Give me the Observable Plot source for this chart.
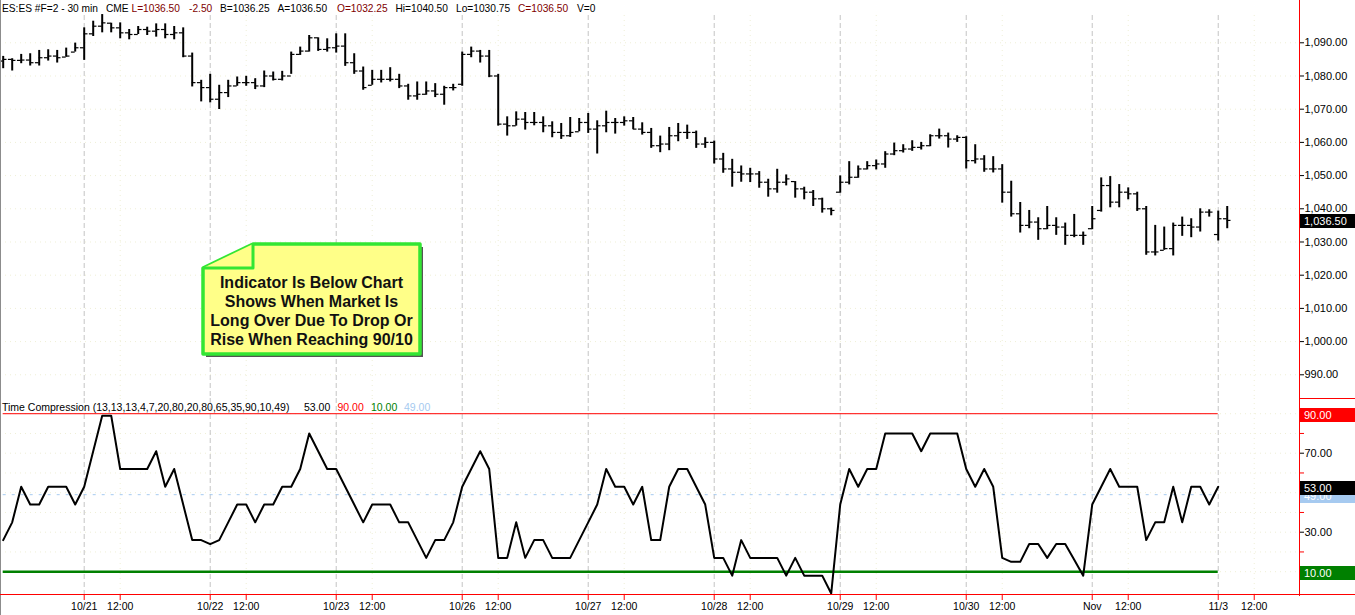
<!DOCTYPE html>
<html><head><meta charset="utf-8">
<script src="https://cdn.jsdelivr.net/npm/d3@7"></script>
<script src="https://cdn.jsdelivr.net/npm/@observablehq/plot@0.6"></script>
<style>
body{margin:0;background:#fff;font-family:"Liberation Sans",Arial,sans-serif;}
#wrap{position:relative;width:1355px;height:615px;overflow:hidden;background:#fff;}
#wrap svg{position:absolute;left:0;}
.t{position:absolute;font-size:10.5px;line-height:13px;white-space:pre;}
.h{font-size:10.2px;}
.box{position:absolute;left:1300px;width:55px;height:14px;color:#fff;font-size:11px;line-height:14px;padding-left:4px;box-sizing:border-box;}
.ln{position:absolute;}
</style></head><body><div id="wrap"></div><script>
// ---- data ----
const high = [
1085.9,1085.2,1086.5,1086.7,1087.7,1087.9,1087.7,1088.4,1089.9,
1094.5,1096.5,1098.5,1095.9,1096,1094,1094.9,1094.7,1095.7,1095.7,
1094.9,1094.5,1086.9,1078.7,1080.5,1077.2,1078.7,1079.7,1079.9,1079.2,
1081.5,1081.2,1081.4,1087.2,1088.7,1092.2,1091.5,1091.2,1092.7,1092.7,
1086.7,1082.7,1081.7,1081.7,1082.5,1080.5,1077.5,1078.2,1078.2,1077.7,
1076.9,1077.5,1087.2,1088.7,1087.7,1087.7,1080.5,1067.7,1069.2,1069,
1069,1067.7,1066.2,1065.7,1067.5,1067.2,1068.7,1066.5,1069.4,1067.2,
1067.7,1067.5,1065.9,1064.2,1061.9,1064.5,1065.7,1065.2,1063.4,1061.4,
1060.4,1056.7,1054.9,1052.9,1052.2,1051.2,1048.9,1051.9,1050.2,1048.2,
1046.5,1045.5,1043.2,1040.2,1049.9,1054.2,1052.9,1054.2,1054.7,1057.2,
1059.8,1059.3,1060.5,1060,1062.3,1064,1062.8,1062,1061.7,1059.3,
1056,1055.7,1053.3,1048.3,1041.9,1039.5,1037.3,1040.7,1037.3,1035.7,
1038.3,1033,1040.7,1049.3,1049.7,1047.3,1046.3,1045,1040.7,1035,
1034.5,1035.7,1037.5,1037,1040,1039.7,1039.3,1040.7];
const low = [
1082.2,1081.5,1083.7,1083,1083,1084.5,1083.9,1085.7,1087.2,
1084.7,1091.9,1093,1093,1091.2,1090.9,1092.5,1092.2,1091.7,1091.2,
1090.9,1085.5,1076.7,1072.2,1071.9,1069.9,1073.5,1076.9,1076.9,1075.9,
1076.5,1078.5,1078.5,1080.5,1086.2,1087.2,1087.4,1087.2,1086.9,1082.9,
1080.5,1075.7,1077.2,1077.9,1078.2,1076.2,1072.7,1072.7,1074.2,1073.5,
1071.2,1075.5,1076.9,1085.5,1083.9,1079.5,1064.9,1061.9,1064.9,1063.7,
1065,1062.9,1061.4,1060.9,1061.5,1063.2,1062.7,1056.5,1062.9,1062.5,
1064.9,1063.9,1062.2,1058.2,1056.9,1057.5,1060.2,1060.9,1058.2,1058.2,
1053.5,1050.7,1046.5,1048,1047.9,1046.2,1043.5,1044.7,1046.9,1043.2,
1042.7,1040.7,1038.7,1037.9,1044.7,1047.2,1049.2,1051.7,1051.7,1052.2,
1056,1056.8,1057.3,1057.7,1058.7,1061,1058.3,1060,1052,1053.5,
1051,1050.8,1041.7,1037.5,1032.7,1034,1030.5,1033.7,1032,1029,
1031.3,1029,1033.7,1039,1040.3,1040.3,1042.7,1039.2,1026,1025.8,
1027.5,1025.8,1031.7,1031.3,1033,1037.5,1030.3,1034];
const open = [
1084.5,1085,1084.7,1084.8,1084,1085.5,1086,1085.7,1087.2,
1088.5,1092.7,1095,1095.9,1094.5,1093,1092.5,1094,1093.5,1094,
1092.5,1093,1086,1078,1076.5,1073,1075,1077,1078,1078,
1077,1080,1079,1080,1086.5,1087.5,1091.5,1088,1088.5,1089,
1084,1081.5,1077.2,1079,1079,1079,1077,1074,1074.5,1075.5,
1074.5,1076.5,1077.5,1086.5,1087.5,1086,1080,1065.5,1065,1067,
1066,1066,1065,1063,1062,1063.2,1066,1064,1065,1066,
1066,1066.5,1064,1063,1059,1059.5,1062,1063,1063,1059.5,
1060,1055,1052,1051,1050.5,1050.5,1048,1046,1048,1048.2,
1046,1045,1043,1040,1045,1048,1049.5,1052,1053,1053.5,
1056.5,1057.5,1058,1058.5,1059,1062,1062,1061,1061.5,1054.5,
1055,1052,1052,1045,1038.5,1035,1036,1034,1035,1034.5,
1032,1032,1034,1039.5,1047,1042,1045,1044.5,1040,1027,
1027.5,1028,1035,1035,1034.5,1039,1032.25,1037];
const close = [
1085,1084.7,1084.8,1084,1085.5,1086,1085.5,1086,1088.5,
1092.7,1095,1096,1094.5,1093,1092.5,1094,1093.5,1094,1092.5,
1093,1086,1078,1076.5,1073,1075,1077,1078,1078,1077,
1080,1079,1080,1086.5,1087.5,1091.5,1088,1088.5,1089,1084,
1081.5,1076.5,1079,1079,1079,1077,1074,1074.5,1075.5,1074.5,
1076.5,1076.5,1086.5,1087.5,1086,1080,1065.5,1065,1067,1066,
1066,1065,1063,1062,1063,1066,1064,1065,1066,1066,
1066.5,1064,1063,1059,1059.5,1062,1063,1063,1059.5,1060,
1055,1052,1051,1050.5,1050.5,1048,1046,1048,1049,1046,
1045,1043,1040,1039.5,1048,1049.5,1052,1053,1053.5,1056.5,
1057.5,1058,1058.5,1059,1062,1062,1061,1061.5,1054.5,1055,
1052,1052,1045,1038.5,1035,1036,1034,1035,1034.5,1032,
1032,1032,1037,1047,1042,1045,1044.5,1040,1027,1027,
1028,1035,1035,1034.5,1039,1039,1037,1036.5];
// Time Compression indicator, one value per bar (last bar not yet computed)
const timeCompression = [
26,35,53,44,44,53,53,53,44,53,
71,89,89,62,62,62,62,71,53,62,
44,26,26,24,26,35,44,44,35,44,
44,53,53,62,80,71,62,62,53,44,
35,44,44,44,35,35,26,17,26,26,
35,53,62,71,62,17,17,35,17,26,
26,17,17,17,26,35,44,62,53,53,
44,53,26,26,53,62,62,53,44,17,
17,8,26,17,17,17,17,8,17,8,
8,8,-1,44,62,53,62,62,80,80,
80,80,71,80,80,80,80,62,53,62,
53,17,15,15,24,24,17,24,24,16,
8,44,53,62,53,53,53,26,35,35,
53,35,53,53,44,53];
const tcUpper = 90, tcLower = 10, tcMid = 49;
const dayLabels = ["10/21","10/22","10/23","10/26","10/27","10/28","10/29","10/30","Nov","11/3"];
const sessionStartBars = [9,23,37,51,65,79,93,107,121,135];
const noonLabel = "12:00";
const noonBarOffset = 4;
const priceTicks = [990,1000,1010,1020,1030,1040,1050,1060,1070,1080,1090];
const tcLabelTicks = [30,70];
const tcMinorTicks = [20,40,60,80];
const tcGrid = [10,20,30,40,50,60,70,80,90];
const headerParts = [
  ["ES:ES #F=2 - 30 min", "#000", 2], ["CME", "#000", 106], ["L=1036.50", "#800000", 131.5],
  ["-2.50", "#800000", 189], ["B=1036.25", "#000", 220], ["A=1036.50", "#000", 277.5],
  ["O=1032.25", "#800000", 337], ["Hi=1040.50", "#000", 395.5], ["Lo=1030.75", "#000", 456],
  ["C=1036.50", "#800000", 518], ["V=0", "#000", 577]];
const tcTitle = "Time Compression (13,13,13,4,7,20,80,20,80,65,35,90,10,49)";
const noteLines = ["Indicator Is Below Chart","Shows When Market Is","Long Over Due To Drop Or","Rise When Reaching 90/10"];

// ---- build ----
const bars = close.map((c, i) => ({i, open: open[i], high: high[i], low: low[i], close: c}));
const tc = timeCompression.map((v, i) => ({i, v}));
const noonBars = sessionStartBars.map(b => b + noonBarOffset);
const xTicks = [...sessionStartBars, ...noonBars].sort((a, b) => a - b);
const tickLabel = i => { const k = sessionStartBars.indexOf(i); return k >= 0 ? dayLabels[k] : noonLabel; };
const W = 1355, axisW = 56;
const xDomain = [-0.3, 144.03];
const font = '"Liberation Sans", Arial, sans-serif';
const faint = {stroke: "#efefd6", strokeDasharray: "1,4"};
const sessionRule = {stroke: "#c4c4c4", strokeDasharray: "5,3"};
const fmt2 = d3.format(",.2f");

const priceChart = Plot.plot({
  width: W, height: 398, marginTop: 15, marginBottom: 0, marginLeft: 0, marginRight: axisW,
  x: {domain: xDomain, axis: null},
  y: {domain: [982.86, 1098.22], axis: null},
  style: {fontFamily: font, fontSize: "11px", color: "#000", background: "transparent", overflow: "visible"},
  marks: [
    Plot.ruleY(priceTicks, faint),
    Plot.ruleX(noonBars, faint),
    Plot.ruleX(sessionStartBars, sessionRule),
    Plot.ruleX(bars, {x: "i", y1: "low", y2: "high", stroke: "#000", strokeWidth: 2}),
    Plot.ruleY(bars, {y: "open", x1: d => d.i - 0.42, x2: "i", stroke: "#000", strokeWidth: 1.2}),
    Plot.ruleY(bars, {y: "close", x1: "i", x2: d => d.i + 0.42, stroke: "#000", strokeWidth: 1.2}),
    Plot.axisY({ticks: priceTicks, anchor: "right", label: null, tickFormat: fmt2, tickSize: 4, tickPadding: 1, fontSize: 11})
  ]
});
const tcChart = Plot.plot({
  width: W, height: 217, marginTop: 0, marginBottom: 20, marginLeft: 0, marginRight: axisW,
  x: {domain: xDomain, axis: null},
  y: {domain: [-2.05, 97.7], axis: null},
  style: {fontFamily: font, fontSize: "11px", color: "#000", background: "transparent", overflow: "visible"},
  marks: [
    Plot.ruleY(tcGrid, faint),
    Plot.ruleX(noonBars, faint),
    Plot.ruleX(sessionStartBars, sessionRule),
    Plot.ruleY([tcMid], {x1: 0, x2: tc.length - 1, stroke: "#a6caf0", strokeDasharray: "3,6"}),
    Plot.ruleY([tcUpper], {x1: 0, x2: tc.length - 1, stroke: "#ff0000", strokeWidth: 1}),
    Plot.ruleY([tcLower], {x1: 0, x2: tc.length - 1, stroke: "#008000", strokeWidth: 2.5}),
    Plot.line(tc, {x: "i", y: "v", stroke: "#000", strokeWidth: 2}),
    Plot.axisY({ticks: tcMinorTicks, anchor: "right", label: null, tickFormat: () => "", tickSize: 4, stroke: "#ff0000"}),
    Plot.axisY({ticks: tcLabelTicks, anchor: "right", label: null, tickFormat: d3.format(".2f"), tickSize: 4, tickPadding: 1, fontSize: 11}),
    Plot.axisX({ticks: xTicks, anchor: "bottom", label: null, tickFormat: tickLabel, tickSize: 5, tickPadding: 2, fontSize: 10.5, stroke: "#ff0000", fill: "#000"})
  ]
});

const wrap = document.getElementById("wrap");
priceChart.style.top = "0px";
tcChart.style.top = "398px";
wrap.appendChild(priceChart);
wrap.appendChild(tcChart);

function add(tag, cls, css, text) {
  const e = document.createElement(tag);
  if (cls) e.className = cls;
  Object.assign(e.style, css);
  if (text != null) e.textContent = text;
  wrap.appendChild(e);
  return e;
}
// frame lines
add("div", "ln", {left: "0px", top: "0px", width: "1px", height: "615px", background: "#8c8c8c"});
add("div", "ln", {left: "1299px", top: "0px", width: "1px", height: "596px", background: "#ff0000"});
add("div", "ln", {left: "1299px", top: "398px", width: "56px", height: "1px", background: "#ff0000"});
add("div", "ln", {left: "0px", top: "594px", width: "1355px", height: "1px", background: "#ff0000"});

// header
for (const [t, c, x] of headerParts) add("div", "t h", {left: x + "px", top: "1.5px", color: c}, t);
// indicator title
const tcLast = timeCompression[timeCompression.length - 1];
const tcHead = [[tcTitle, "#000", 2], [d3.format(".2f")(tcLast), "#000", 304], [d3.format(".2f")(tcUpper), "#ff0000", 337.5],
  [d3.format(".2f")(tcLower), "#008000", 371], [d3.format(".2f")(tcMid), "#a6caf0", 404]];
for (const [t, c, x] of tcHead) add("div", "t", {left: x + "px", top: "400.5px", color: c}, t);

// value boxes
const py = priceChart.scale("y"), ty = tcChart.scale("y");
function box(yc, bg, text) { add("div", "box", {top: (yc - 7 + 1.5) + "px", background: bg}, text); }
box(py.apply(close[close.length - 1]), "#000", fmt2(close[close.length - 1]));
box(398 + ty.apply(tcUpper), "#ff0000", d3.format(".2f")(tcUpper));
box(398 + ty.apply(tcMid), "#a6caf0", d3.format(".2f")(tcMid));
box(398 + ty.apply(tcLast), "#000", d3.format(".2f")(tcLast));
box(398 + ty.apply(tcLower), "#008000", d3.format(".2f")(tcLower));

// callout note
const ns = "http://www.w3.org/2000/svg";
const note = document.createElementNS(ns, "svg");
note.setAttribute("width", W); note.setAttribute("height", 615);
note.style.top = "0px"; note.style.pointerEvents = "none";
note.innerHTML = `
<polygon points="206,271 256,247 423,247 423,357 206,357" fill="#555"/>
<polygon points="203,268 253,244 420,244 420,354 203,354" fill="#ffff88" stroke="#33e633" stroke-width="3.5" stroke-linejoin="round"/>
<polyline points="203,268 253,268 253,244" fill="#ffff88" stroke="#33e633" stroke-width="3" stroke-linejoin="round"/>
` + noteLines.map((l, k) => `<text x="311.5" y="${287.5 + k * 19.2}" text-anchor="middle" font-family='${font}' font-weight="bold" font-size="16" fill="#111">${l}</text>`).join("");
wrap.appendChild(note);
</script></body></html>
